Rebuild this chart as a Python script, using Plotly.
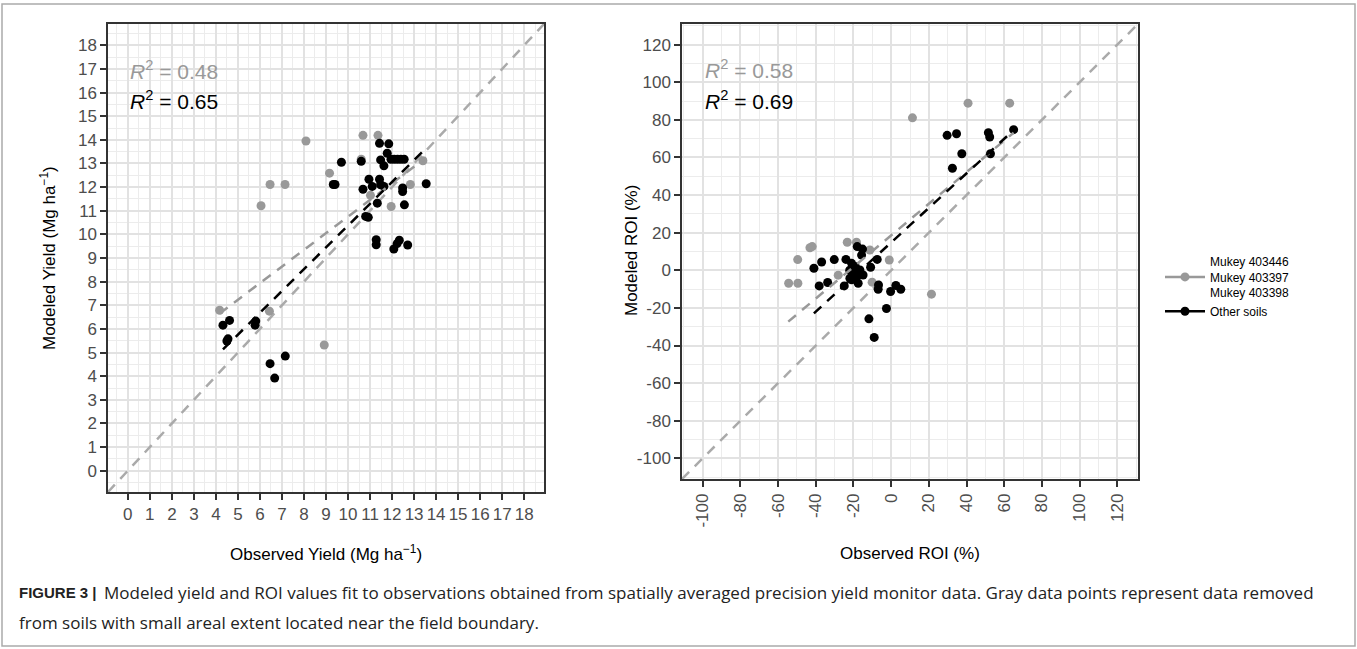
import plotly.graph_objects as go

# ---------------- data ----------------
# Left panel: yield (Mg ha-1)
yield_gray_obs = [4.17, 6.05, 6.46, 7.14, 8.09, 6.43, 8.92, 9.16, 10.68, 11.36, 10.60, 13.40, 12.83, 11.96, 11.02]
yield_gray_mod = [6.79, 11.21, 12.11, 12.11, 13.95, 6.75, 5.32, 12.59, 14.19, 14.19, 13.18, 13.11, 12.11, 11.18, 11.65]

yield_black_obs = [4.32, 4.62, 4.55, 4.50, 5.78, 5.81, 6.46, 6.67, 7.15, 9.70, 9.33, 9.41,
                   10.60, 10.68, 10.80, 10.92, 10.95, 11.10, 11.33, 11.28, 11.28, 11.43, 11.48,
                   11.43, 11.48, 11.63, 11.85, 11.78, 11.95, 12.10, 12.25, 12.40, 12.55, 11.63,
                   12.48, 12.48, 12.56, 12.08, 12.23, 12.33, 12.71, 13.55]
yield_black_mod = [6.16, 6.36, 5.58, 5.49, 6.16, 6.33, 4.53, 3.92, 4.85, 13.05, 12.11, 12.11,
                   13.09, 11.91, 10.76, 10.72, 12.33, 12.03, 11.32, 9.77, 9.56, 13.85, 13.15,
                   12.33, 12.10, 12.90, 13.83, 13.43, 13.18, 13.18, 13.18, 13.18, 13.18, 12.03,
                   11.96, 11.81, 11.25, 9.38, 9.61, 9.75, 9.55, 12.14]

yield_fit_gray_x = [4.17, 13.55]
yield_fit_gray_y = [6.65, 13.25]
yield_fit_black_x = [4.32, 13.55]
yield_fit_black_y = [5.13, 13.65]
yield_one_to_one = [-0.9, 18.9]

# Right panel: ROI (%)
roi_gray_obs = [11.3, 40.8, 62.9, 21.4, -54.4, -49.5, -49.6, -43.1, -41.9, -23.3, -18.4, -28.1, -1.0, -10.1, -11.3]
roi_gray_mod = [81.1, 88.9, 88.9, -12.7, -6.9, -6.9, 5.7, 12.0, 12.6, 14.9, 14.9, -2.6, 5.5, -6.3, 10.8]

roi_black_obs = [29.7, 34.7, 32.5, 37.5, 51.6, 52.3, 52.7, 65.0, -41.0, -36.9, -38.2, -33.7,
                 -30.2, -24.0, -24.9, -21.0, -20.1, -19.2, -17.5, -18.0, -15.2, -15.7, -14.9,
                 -16.6, -21.9, -10.9, -7.4, -6.7, -6.9, -0.3, 2.5, 5.1, -2.5, -11.8, -9.0,
                 -22.0, -19.0, -21.0, -18.0]
roi_black_mod = [71.8, 72.6, 54.3, 62.0, 73.2, 70.9, 62.0, 74.8, 1.1, 4.4, -8.3, -6.5,
                 5.7, 5.8, -8.3, 3.7, -1.6, -4.2, -6.9, 12.6, 11.3, 8.1, -2.5,
                 0.2, -4.2, 1.6, 5.8, -7.8, -10.1, -11.3, -8.1, -10.1, -20.3, -25.8, -35.7,
                 0.0, 2.0, -5.0, -3.0]

roi_fit_gray_x = [-54.6, 65.0]
roi_fit_gray_y = [-27.3, 73.2]
roi_fit_black_x = [-41.0, 64.0]
roi_fit_black_y = [-22.9, 73.6]
roi_one_to_one = [-111, 131]

yield_ticks = list(range(0, 19))
roi_ticks = list(range(-100, 121, 20))

legend_names = ["Mukey 403446<br>Mukey 403397<br>Mukey 403398", "Other soils"]
r2_yield = ["0.48", "0.65"]
r2_roi = ["0.58", "0.69"]

GRAY = "#999999"
BLACK = "#000000"
FONT = "Liberation Sans, Arial, sans-serif"
CAPFONT = "Open Sans, Liberation Sans, sans-serif"
W, H = 1357, 649
DASH = "10px,8px"

fig = go.Figure()


def add_panel(xa, ya, one, gx, gy, bx, by, fgx, fgy, fbx, fby):
    fig.add_trace(go.Scatter(x=one, y=one, mode="lines", xaxis=xa, yaxis=ya,
                             line=dict(color="#aaaaaa", width=2.5, dash=DASH),
                             showlegend=False, hoverinfo="skip"))
    fig.add_trace(go.Scatter(x=gx, y=gy, mode="markers", xaxis=xa, yaxis=ya,
                             marker=dict(color=GRAY, size=9), showlegend=False))
    fig.add_trace(go.Scatter(x=bx, y=by, mode="markers", xaxis=xa, yaxis=ya,
                             marker=dict(color=BLACK, size=9), showlegend=False))
    fig.add_trace(go.Scatter(x=fgx, y=fgy, mode="lines", xaxis=xa, yaxis=ya,
                             line=dict(color=GRAY, width=2.5, dash=DASH),
                             showlegend=False, hoverinfo="skip"))
    fig.add_trace(go.Scatter(x=fbx, y=fby, mode="lines", xaxis=xa, yaxis=ya,
                             line=dict(color=BLACK, width=2.5, dash=DASH),
                             showlegend=False, hoverinfo="skip"))


add_panel("x", "y", yield_one_to_one, yield_gray_obs, yield_gray_mod, yield_black_obs, yield_black_mod,
          yield_fit_gray_x, yield_fit_gray_y, yield_fit_black_x, yield_fit_black_y)
add_panel("x2", "y2", roi_one_to_one, roi_gray_obs, roi_gray_mod, roi_black_obs, roi_black_mod,
          roi_fit_gray_x, roi_fit_gray_y, roi_fit_black_x, roi_fit_black_y)

# legend-only traces
fig.add_trace(go.Scatter(x=[None], y=[None], mode="lines+markers", name=legend_names[0],
                         line=dict(color=GRAY, width=2.5, dash="solid"),
                         marker=dict(color=GRAY, size=9)))
fig.add_trace(go.Scatter(x=[None], y=[None], mode="lines+markers", name=legend_names[1],
                         line=dict(color=BLACK, width=2.5, dash="solid"),
                         marker=dict(color=BLACK, size=9)))


def px_dom_x(a, b):
    return [a / W, b / W]


def px_dom_y(top, bottom):
    return [1 - bottom / H, 1 - top / H]


axis_common = dict(
    showline=True, linecolor="#333333", linewidth=1.5, mirror=True,
    showgrid=True, gridcolor="#e2e2e2", gridwidth=2,
    ticks="outside", ticklen=6, tickwidth=2, tickcolor="#333333",
    tickfont=dict(family=FONT, size=17, color="#4d4d4d"),
    zeroline=False,
)
minor_yield = dict(dtick=0.5, showgrid=True, gridcolor="#ececec", gridwidth=1, ticks="")
minor_roi = dict(dtick=10, showgrid=True, gridcolor="#ececec", gridwidth=1, ticks="")

fig.update_layout(
    width=W, height=H,
    margin=dict(l=0, r=0, t=0, b=0, autoexpand=False),
    paper_bgcolor="white", plot_bgcolor="white",
    font=dict(family=FONT, color="black"),
    xaxis=dict(domain=px_dom_x(108, 544), range=[-0.9, 18.9], tickvals=yield_ticks,
               ticktext=[str(t) for t in yield_ticks], anchor="y", minor=minor_yield, **axis_common),
    yaxis=dict(domain=px_dom_y(24, 492), range=[-0.9, 18.9], tickvals=yield_ticks,
               ticktext=[str(t) for t in yield_ticks], anchor="x", minor=minor_yield, **axis_common),
    xaxis2=dict(domain=px_dom_x(682, 1138), range=[-111, 131], tickvals=roi_ticks,
                ticktext=[str(t) for t in roi_ticks], tickangle=-90, anchor="y2",
                minor=minor_roi, **axis_common),
    yaxis2=dict(domain=px_dom_y(24, 479), range=[-111, 131], tickvals=roi_ticks,
                ticktext=[str(t) for t in roi_ticks], anchor="x2",
                minor=minor_roi, **axis_common),
    legend=dict(x=1160 / W, y=1 - 247 / H, xanchor="left", yanchor="top",
                font=dict(family=FONT, size=12, color="black"),
                bgcolor="rgba(0,0,0,0)", tracegroupgap=6, itemwidth=40),
    showlegend=True,
)

ann = []
# R2 labels
for (xv, yv, xr, yr, txt, col) in [
    (0.0, 16.95, "x", "y", r2_yield[0], GRAY),
    (0.0, 15.68, "x", "y", r2_yield[1], BLACK),
    (-100, 107.1, "x2", "y2", r2_roi[0], GRAY),
    (-100, 90.8, "x2", "y2", r2_roi[1], BLACK),
]:
    ann.append(dict(x=xv, y=yv, xref=xr, yref=yr, xanchor="left", yanchor="middle", showarrow=False,
                    text="<i>R</i><sup>2</sup> = " + txt, font=dict(family=FONT, size=21, color=col)))

# axis titles
ann.append(dict(x=326 / W, y=1 - 553 / H, xref="paper", yref="paper", xanchor="center", yanchor="middle",
                showarrow=False, text="Observed Yield (Mg ha<sup>−1</sup>)",
                font=dict(family=FONT, size=17, color="black")))
ann.append(dict(x=910 / W, y=1 - 553 / H, xref="paper", yref="paper", xanchor="center", yanchor="middle",
                showarrow=False, text="Observed ROI (%)", font=dict(family=FONT, size=17, color="black")))
ann.append(dict(x=48 / W, y=1 - 258 / H, xref="paper", yref="paper", xanchor="center", yanchor="middle",
                showarrow=False, textangle=-90, text="Modeled Yield (Mg ha<sup>−1</sup>)",
                font=dict(family=FONT, size=17, color="black")))
ann.append(dict(x=631 / W, y=1 - 251 / H, xref="paper", yref="paper", xanchor="center", yanchor="middle",
                showarrow=False, textangle=-90, text="Modeled ROI (%)",
                font=dict(family=FONT, size=17, color="black")))

# caption
ann.append(dict(x=17 / W, y=1 - 592 / H, xref="paper", yref="paper", xanchor="left", yanchor="middle",
                showarrow=False, text="<b>FIGURE 3 |</b>",
                font=dict(family=FONT, size=15, color="#222222")))
ann.append(dict(x=102 / W, y=1 - 592 / H, xref="paper", yref="paper", xanchor="left", yanchor="middle",
                showarrow=False,
                text="Modeled yield and ROI values fit to observations obtained from spatially averaged "
                     "precision yield monitor data. Gray data points represent data removed",
                font=dict(family=CAPFONT, size=17, color="#222222")))
ann.append(dict(x=17 / W, y=1 - 622 / H, xref="paper", yref="paper", xanchor="left", yanchor="middle",
                showarrow=False,
                text="from soils with small areal extent located near the field boundary.",
                font=dict(family=CAPFONT, size=17, color="#222222")))
fig.update_layout(annotations=ann)

# outer frame
fig.add_shape(type="rect", xref="paper", yref="paper", x0=2 / W, x1=1 - 2 / W, y0=3 / H, y1=1 - 4 / H,
              line=dict(color="#aaaaaa", width=1.5), fillcolor="rgba(0,0,0,0)", layer="below")

fig.write_html("out.html")
